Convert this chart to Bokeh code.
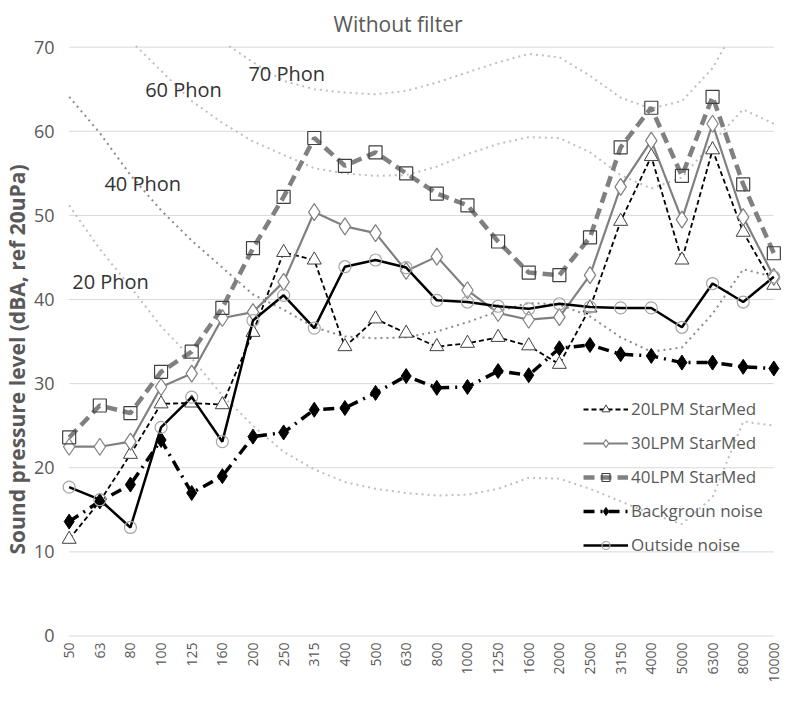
from bokeh.plotting import figure
from bokeh.models import Range1d, FixedTicker, Legend, LegendItem, Label, Title
from bokeh.embed import file_html
from bokeh.resources import INLINE

# ---------------- data ----------------
freqs = ["50", "63", "80", "100", "125", "160", "200", "250", "315", "400", "500", "630",
         "800", "1000", "1250", "1600", "2000", "2500", "3150", "4000", "5000", "6300",
         "8000", "10000"]

lpm20 = [11.5, 16.0, 21.6, 27.6, 27.7, 27.5, 36.1, 45.6, 44.7, 34.4, 37.7, 36.0,
         34.4, 34.8, 35.5, 34.5, 32.3, 39.0, 49.3, 57.0, 44.7, 57.8, 48.0, 41.7]
lpm30 = [22.5, 22.5, 23.1, 29.6, 31.2, 37.8, 38.5, 42.1, 50.4, 48.7, 47.9, 43.4,
         45.1, 41.1, 38.4, 37.6, 37.9, 42.9, 53.4, 58.9, 49.5, 60.9, 49.8, 42.7]
lpm40 = [23.6, 27.4, 26.5, 31.4, 33.8, 39.0, 46.1, 52.2, 59.2, 55.9, 57.5, 55.0,
         52.6, 51.2, 46.9, 43.2, 42.9, 47.4, 58.1, 62.8, 54.7, 64.1, 53.7, 45.5]
background = [13.6, 16.0, 18.0, 23.3, 17.0, 19.0, 23.7, 24.2, 26.9, 27.1, 28.9, 30.9,
              29.5, 29.6, 31.5, 31.0, 34.2, 34.6, 33.5, 33.3, 32.5, 32.5, 32.0, 31.8]
outside = [17.7, 16.2, 12.9, 24.8, 28.4, 23.1, 37.5, 40.5, 36.6, 43.9, 44.7, 43.8,
           39.9, 39.7, 39.2, 38.9, 39.5, 39.1, 39.0, 39.0, 36.7, 41.9, 39.7, 42.7]

phon20 = [51.2, 46.0, 41.5, 36.8, 33.0, 28.6, 25.0, 21.9, 19.8, 18.3, 17.5, 17.0,
          16.7, 16.8, 17.5, 18.8, 18.7, 17.5, 16.0, 14.5, 13.3, 16.5, 25.5, 25.0]
phon40 = [64.1, 59.8, 54.8, 50.6, 47.0, 43.8, 40.6, 38.8, 36.7, 35.6, 35.4, 35.5,
          36.2, 37.3, 38.6, 39.6, 39.4, 38.0, 35.5, 33.8, 34.3, 38.3, 43.6, 42.7]
phon60 = [82.0, 76.0, 70.8, 67.2, 63.6, 61.0, 58.8, 57.2, 55.6, 55.0, 54.7, 54.8,
          55.8, 57.3, 58.5, 59.3, 59.2, 57.5, 54.8, 53.2, 54.5, 58.7, 62.6, 60.9]
phon70 = [92.0, 86.0, 81.0, 77.0, 73.5, 70.7, 68.2, 66.0, 65.0, 64.6, 64.4, 64.8,
          65.8, 67.0, 68.2, 69.2, 68.8, 66.6, 64.0, 62.7, 63.6, 67.5, 74.0, 78.0]

y_ticks = [0, 10, 20, 30, 40, 50, 60, 70]

title_text = "Without filter"
y_label = "Sound pressure level (dBA, ref 20uPa)"
series_names = ["20LPM StarMed", "30LPM StarMed", "40LPM StarMed",
                "Backgroun noise", "Outside noise"]
phon_labels = ["20 Phon", "40 Phon", "60 Phon", "70 Phon"]

# ---------------- figure ----------------
FONT = "Open Sans"
TXT = "#595959"
x = list(range(len(freqs)))
n = len(freqs) - 1

p = figure(width=784, height=685, output_backend="svg", toolbar_location=None,
           x_range=Range1d(-0.25, n + 0.25), y_range=Range1d(-0.3, 70.2),
           min_border_left=59, min_border_right=3, min_border_top=0, min_border_bottom=0,
           title=title_text)
p.outline_line_color = None
p.background_fill_color = "white"
p.border_fill_color = "white"
p.xgrid.visible = False
p.ygrid.visible = False

p.title.text_font = FONT
p.title.text_font_size = "21px"
p.title.text_font_style = "normal"
p.title.text_color = TXT
p.title.align = "left"
p.title.offset = 272
p.title.standoff = 15

# axes
for ax in (p.xaxis[0], p.yaxis[0]):
    ax.axis_line_color = None
    ax.major_tick_line_color = None
    ax.minor_tick_line_color = None
    ax.major_tick_out = 0
    ax.major_tick_in = 0
    ax.minor_tick_out = 0
    ax.minor_tick_in = 0
    ax.major_label_text_font = FONT
    ax.major_label_text_color = TXT

p.xaxis.ticker = FixedTicker(ticks=x)
p.xaxis.major_label_overrides = {i: f for i, f in enumerate(freqs)}
p.xaxis.major_label_orientation = 3.14159265 / 2
p.xaxis.major_label_text_font_size = "14px"
p.xaxis.major_label_standoff = 4

p.yaxis.ticker = FixedTicker(ticks=y_ticks)
p.yaxis.major_label_text_font_size = "18px"
p.yaxis.major_label_standoff = 7

# y axis title as a left-side title (lets it sit a little below the frame centre)
p.add_layout(Title(text=y_label, align="left", offset=84, standoff=0,
                   text_font=FONT, text_font_size="21px", text_font_style="bold",
                   text_color=TXT), "left")

# gridlines
p.segment(x0=[0] * len(y_ticks), x1=[n] * len(y_ticks), y0=y_ticks, y1=y_ticks,
          line_color="#d9d9d9", line_width=1)

# equal loudness contours
p.line(x, phon20, line_color="#bfbfbf", line_width=2, line_dash="2 4")
p.line(x, phon40, line_color="#8a8a8a", line_width=2, line_dash="2 4")
p.line(x, phon60, line_color="#bfbfbf", line_width=2, line_dash="2 4")
p.line(x, phon70, line_color="#bfbfbf", line_width=2, line_dash="2 4")

phon_pos = [(0.1, 42.1), (1.15, 53.8), (2.48, 65.0), (5.85, 66.9)]
for t, (px, py) in zip(phon_labels, phon_pos):
    p.add_layout(Label(x=px, y=py, text=t, text_font=FONT, text_font_size="20px",
                       text_color="#333333", text_baseline="middle", text_align="left"))

# series
r20l = p.line(x, lpm20, line_color="black", line_width=1.8, line_dash="5 3")
r20m = p.scatter(x, lpm20, marker="triangle", size=14, fill_color="white",
                 line_color="#404040", line_width=1)
r30l = p.line(x, lpm30, line_color="#808080", line_width=2.2)
r30m = p.scatter(x, lpm30, marker="diamond", size=17, fill_color="white",
                 line_color="#808080", line_width=1.2)
r40l = p.line(x, lpm40, line_color="#808080", line_width=4.5, line_dash="11 6")
r40m = p.scatter(x, lpm40, marker="square", size=13, fill_color=None,
                 line_color="#404040", line_width=1.2)
rbl = p.line(x, background, line_color="black", line_width=3.5, line_dash="11 6 2 6")
rbm = p.scatter(x, background, marker="diamond", size=15, fill_color="black",
                line_color="black", line_width=1)
rol = p.line(x, outside, line_color="black", line_width=2.5)
rom = p.scatter(x, outside, marker="circle", size=12, fill_color=None,
                line_color="#a6a6a6", line_width=1.2)

items = [LegendItem(label=series_names[0], renderers=[r20l, r20m]),
         LegendItem(label=series_names[1], renderers=[r30l, r30m]),
         LegendItem(label=series_names[2], renderers=[r40l, r40m]),
         LegendItem(label=series_names[3], renderers=[rbl, rbm]),
         LegendItem(label=series_names[4], renderers=[rol, rom])]
legend = Legend(items=items, location=(522, 82), background_fill_alpha=0,
                border_line_color=None, padding=0, margin=0, spacing=11,
                glyph_height=20, glyph_width=45, label_height=20, label_standoff=3,
                label_text_font=FONT, label_text_font_size="17px", label_text_color=TXT)
p.add_layout(legend)

open("out.html", "w").write(file_html(p, INLINE))
